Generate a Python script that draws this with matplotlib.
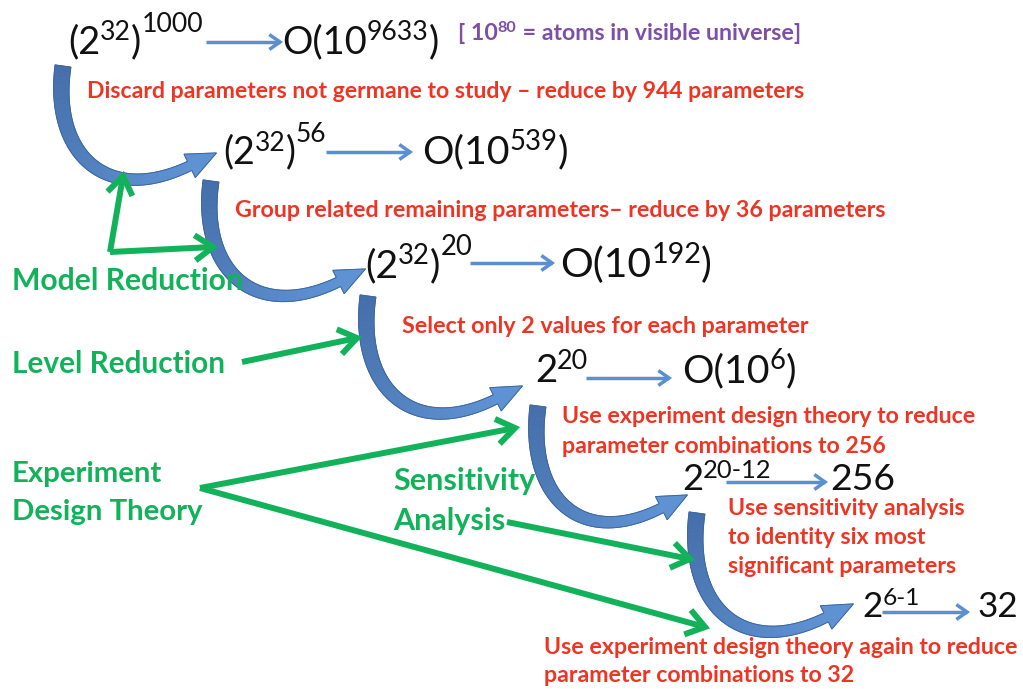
import numpy as np
import matplotlib
matplotlib.use("Agg")
import matplotlib.pyplot as plt
from matplotlib.patches import Polygon
from matplotlib.colors import to_rgb

# ---------------- content (text and numbers) ----------------
# each expression is a list of (text, level): 0 = base, 1 = superscript, 2 = outer superscript
expr_left = [
    [("(2", 0), ("32", 1), (")", 0), ("1000", 2)],
    [("(2", 0), ("32", 1), (")", 0), ("56", 2)],
    [("(2", 0), ("32", 1), (")", 0), ("20", 2)],
    [("2", 0), ("20", 1)],
    [("2", 0), ("20-12", 1)],
    [("2", 0), ("6-1", 1)],
]
expr_right = [
    [("O(10", 0), ("9633", 1), (")", 0)],
    [("O(10", 0), ("539", 1), (")", 0)],
    [("O(10", 0), ("192", 1), (")", 0)],
    [("O(10", 0), ("6", 1), (")", 0)],
    [("256", 0)],
    [("32", 0)],
]
universe_note = [("[ 10", 0), ("80", 1), (" = atoms in visible universe]", 0)]
step_notes = [
    ["Discard parameters not germane to study – reduce by 944 parameters"],
    ["Group related remaining parameters– reduce by 36 parameters"],
    ["Select only 2 values for each parameter"],
    ["Use experiment design theory to reduce", "parameter combinations to 256"],
    ["Use sensitivity analysis", "to identity six most", "significant parameters"],
    ["Use experiment design theory again to reduce", "parameter combinations to 32"],
]
method_labels = [
    ["Model Reduction"],
    ["Level Reduction"],
    ["Experiment", "Design Theory"],
    ["Sensitivity", "Analysis"],
]

# ---------------- layout / style ----------------
W, H = 1023, 689
FONT = "Lato"
BLACK = "#111111"
RED = "#EE3524"
GREEN = "#12B25B"
PURPLE = "#7D4FA6"
SMALL_BLUE = "#5A8FD0"
SUP = 0.7
RAISE = {0: 0.0, 1: 0.33, 2: 0.55}

fig = plt.figure(figsize=(W / 100, H / 100), dpi=100)
fig.patch.set_facecolor("white")
ax = fig.add_axes([0, 0, 1, 1])
ax.set_xlim(0, W)
ax.set_ylim(H, 0)
ax.axis("off")
fig.canvas.draw()
renderer = fig.canvas.get_renderer()


def measure(s, size, weight):
    t = ax.text(0, 0, s, fontsize=size, fontfamily=FONT, fontweight=weight)
    w = t.get_window_extent(renderer).width
    t.remove()
    return w


def runs_width(pieces, size, weight):
    return sum(measure(s, size if l == 0 else size * SUP, weight) for s, l in pieces)


def draw_runs(x, y, pieces, size, color, weight="normal"):
    em = size * 100 / 72
    for s, l in pieces:
        sz = size if l == 0 else size * SUP
        ax.text(x, y - RAISE[l] * em, s, fontsize=sz, fontfamily=FONT,
                fontweight=weight, color=color, ha="left", va="baseline", zorder=4)
        x += measure(s, sz, weight)
    return x


def fit_size(pieces_list, width, weight):
    w20 = max(runs_width(p, 20, weight) for p in pieces_list)
    return 20 * width / w20


def chevron_arrow(p0, p1, color, lw, arm, ang=35):
    p0 = np.array(p0, float)
    p1 = np.array(p1, float)
    d = (p1 - p0) / np.linalg.norm(p1 - p0)

    def rot(v, a):
        a = np.radians(a)
        return np.array([v[0] * np.cos(a) - v[1] * np.sin(a),
                         v[0] * np.sin(a) + v[1] * np.cos(a)])
    a1 = p1 - arm * rot(d, ang)
    a2 = p1 - arm * rot(d, -ang)
    ax.plot([p0[0], p1[0]], [p0[1], p1[1]], color=color, lw=lw,
            solid_capstyle="butt", zorder=3)
    ax.plot([a1[0], p1[0], a2[0]], [a1[1], p1[1], a2[1]], color=color, lw=lw,
            solid_joinstyle="miter", solid_capstyle="butt", zorder=3)


def curved_arrow(S, T):
    S = np.array(S, float)
    T = np.array(T, float)
    kx = (T[0] - S[0]) / 152.0
    ky = (T[1] - S[1]) / 89.0
    P0 = S
    P1 = S + [-12 * kx, 88 * ky]
    P2 = S + [42 * kx, 142 * ky]
    P3 = S + [125 * kx, 101 * ky]
    t = np.linspace(0, 1, 90)[:, None]
    B = (1 - t) ** 3 * P0 + 3 * (1 - t) ** 2 * t * P1 + 3 * (1 - t) * t ** 2 * P2 + t ** 3 * P3
    dB = 3 * (1 - t) ** 2 * (P1 - P0) + 6 * (1 - t) * t * (P2 - P1) + 3 * t ** 2 * (P3 - P2)
    tang = dB / np.linalg.norm(dB, axis=1, keepdims=True)
    nrm = np.column_stack([-tang[:, 1], tang[:, 0]])
    hw = 8.0 - 3.0 * t
    L = B + nrm * hw
    R = B - nrm * hw
    c0 = np.array(to_rgb("#456FAA"))
    c1 = np.array(to_rgb("#5E92D3"))
    tt = t[:, 0]
    for i in range(len(tt) - 1):
        c = c0 + (c1 - c0) * tt[i]
        ax.add_patch(Polygon([L[i], L[i + 1], R[i + 1], R[i]], closed=True,
                             fc=c, ec=c, lw=0.6, zorder=2))
    hd = tang[-1]
    hn = nrm[-1]
    tip = P3 + hd * np.linalg.norm(T - P3)
    head = [P3 + hn * 13, tip, P3 - hn * 13]
    ax.add_patch(Polygon(head, closed=True, fc=c1, ec=c1, lw=0.6, zorder=2))
    outline = np.vstack([L, P3 + hn * 13, tip, P3 - hn * 13, R[::-1]])
    ax.add_patch(Polygon(outline, closed=True, fill=False, ec="#3D67A0",
                         lw=0.7, zorder=2))


# ---------------- blue curved arrows between stages ----------------
curve_starts = [(63, 66), (211, 181), (368, 296), (538, 406), (697, 513)]
curve_tips = [(217, 154), (366, 270), (523, 387), (688, 496), (854, 605)]
for s, e in zip(curve_starts, curve_tips):
    curved_arrow(s, e)

# ---------------- stage expressions ----------------
left_box = [(68, 53, 205), (223, 163, 320), (365, 277, 466), (535, 382, 586),
            (682, 490, 770), (862, 617, 920)]
right_box = [(282, 53, 437), (422, 163, 568), (560, 277, 712), (682, 382, 796),
             (830, 490, 895), (977, 617, 1017)]
small_arrows = [(206, 280, 42), (326, 410, 152), (470, 552, 263),
                (586, 669, 378), (726, 825, 482), (882, 967, 612)]
for pl, pr, (xl, y, xl1), (xr, _, xr1) in zip(expr_left, expr_right, left_box, right_box):
    w20 = runs_width(pl, 20, "normal") + runs_width(pr, 20, "normal")
    sz = 20 * ((xl1 - xl) + (xr1 - xr)) / w20
    sz = min(max(sz, 23), 29)
    szr = 20 * (xr1 - xr) / runs_width(pr, 20, "normal")
    szr = min(max(szr, sz), 31)
    draw_runs(xl, y, pl, sz, BLACK)
    draw_runs(xr, y, pr, szr, BLACK)
for x0, x1, y in small_arrows:
    chevron_arrow((x0, y), (x1, y), SMALL_BLUE, lw=2.5, arm=13)

# ---------------- purple note ----------------
ps = fit_size([universe_note], 800 - 458, "bold")
draw_runs(458, 40, universe_note, ps, PURPLE, "bold")

# ---------------- red step notes ----------------
note_boxes = [  # left x, right x of widest line, first baseline, line step
    (87, 805, 98, 0),
    (235, 888, 217, 0),
    (402, 808, 333, 0),
    (562, 976, 423, 30),
    (728, 965, 515, 29),
    (544, 1018, 654, 28),
]
for lines, (x0, x1, y0, dy) in zip(step_notes, note_boxes):
    sz = fit_size([[(ln, 0)] for ln in lines], x1 - x0, "bold")
    for k, ln in enumerate(lines):
        ax.text(x0, y0 + k * dy, ln, fontsize=sz, fontfamily=FONT,
                fontweight="bold", color=RED, ha="left", va="baseline")

# ---------------- green method labels ----------------
label_boxes = [  # left x, right x of widest line, first baseline, line step
    (12, 243, 290, 0),
    (12, 225, 373, 0),
    (12, 203, 482, 38),
    (393, 535, 490, 40),
]
for lines, (x0, x1, y0, dy) in zip(method_labels, label_boxes):
    sz = fit_size([[(ln, 0)] for ln in lines], x1 - x0, "bold")
    for k, ln in enumerate(lines):
        ax.text(x0, y0 + k * dy, ln, fontsize=sz, fontfamily=FONT,
                fontweight="bold", color=GREEN, ha="left", va="baseline")

# ---------------- green pointer arrows ----------------
GLW = 4.3
chevron_arrow((110, 252), (123, 176), GREEN, GLW, 22)
chevron_arrow((110, 252), (213, 247), GREEN, GLW, 22)
chevron_arrow((242, 362), (357, 338), GREEN, GLW, 22)
chevron_arrow((200, 488), (515, 428), GREEN, GLW, 22)
chevron_arrow((200, 488), (705, 627), GREEN, GLW, 22)
chevron_arrow((507, 522), (690, 559), GREEN, GLW, 22)

fig.savefig("out.png", dpi=100, facecolor="white")
